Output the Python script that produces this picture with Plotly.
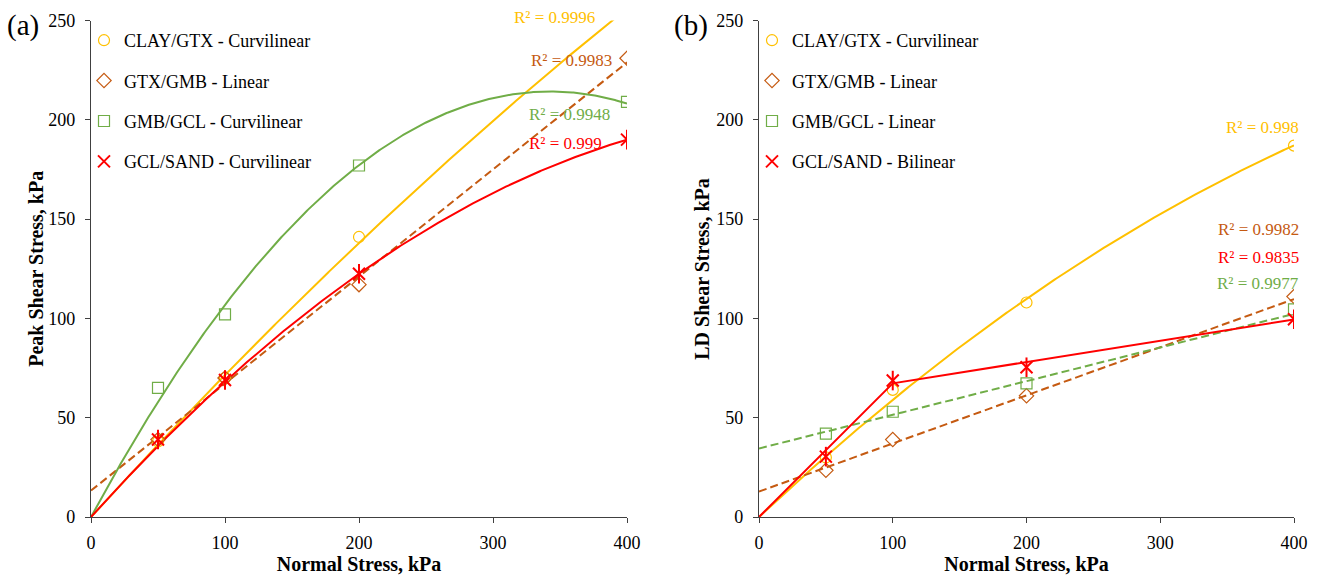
import numpy as np
import plotly.graph_objects as go

# ---------------- data ----------------
normal_stress = [50, 100, 200, 400]

# (a) Peak shear stress, kPa
peak_clay_gtx = [38, 70, 141, 256]
peak_gtx_gmb = [39, 70, 117, 231]
peak_gmb_gcl = [65, 102, 177, 209]
peak_gcl_sand = [39, 69, 122.5, 190]

# (b) Large-displacement shear stress, kPa
ld_clay_gtx = [30, 64, 108, 187]
ld_gtx_gmb = [23.5, 39, 61, 111]
ld_gmb_gcl = [42, 53, 67.3, 104.5]
ld_gcl_sand = [30.4, 68.7, 75.4, 99.6]

# trendline coefficients: y = c0 + c1*x + c2*x^2
peak_fit_clay_gtx = [0.0, 0.74, -0.00025]
peak_fit_gtx_gmb = [13.3, 0.539, 0.0]
peak_fit_gmb_gcl = [0.0, 1.2513, -0.001827]
peak_fit_gcl_sand = [0.0, 0.75, -0.0006875]

ld_fit_clay_gtx = [0.0, 0.631, -0.000408]
ld_fit_gtx_gmb = [12.8, 0.2423, 0.0]
ld_fit_gmb_gcl = [34.5, 0.1695, 0.0]
ld_bilinear_x = [0, 100, 400]
ld_bilinear_y = [0, 67.3, 99.5]

peak_r2 = ["R² = 0.9996", "R² = 0.9983", "R² = 0.9948", "R² = 0.999"]
ld_r2 = ["R² = 0.998", "R² = 0.9982", "R² = 0.9835", "R² = 0.9977"]

names_a = ["CLAY/GTX - Curvilinear", "GTX/GMB - Linear", "GMB/GCL - Curvilinear", "GCL/SAND - Curvilinear"]
names_b = ["CLAY/GTX - Curvilinear", "GTX/GMB - Linear", "GMB/GCL - Linear", "GCL/SAND - Bilinear"]

# ---------------- style ----------------
YEL = "#FFC000"
BRN = "#C55A11"
GRN = "#70AD47"
RED = "#FF0000"
FONT = "Liberation Serif, Times New Roman, serif"
AXC = "#404040"

fig = go.Figure()
xs = np.linspace(0, 400, 401)


def poly(c):
    return c[0] + c[1] * xs + c[2] * xs ** 2


def add_panel(xa, ya, legend, data, fits, names):
    sym = ["circle-open", "diamond-open", "square-open"]
    cols = [YEL, BRN, GRN, RED]
    for i, f in enumerate(fits):
        if f is None:
            continue
        dash = "8px,4px" if f[2] == 0.0 else "solid"
        fig.add_trace(go.Scatter(x=xs, y=poly(f), mode="lines", xaxis=xa, yaxis=ya,
                                 line=dict(color=cols[i], width=2, dash=dash),
                                 showlegend=False, hoverinfo="skip"))
    for i in range(3):
        fig.add_trace(go.Scatter(x=normal_stress, y=data[i], mode="markers", xaxis=xa, yaxis=ya,
                                 name=names[i], legend=legend, legendgroup=legend + str(i),
                                 marker=dict(symbol=sym[i], size=11, color=cols[i],
                                             line=dict(width=1.2, color=cols[i]))))
    fig.add_trace(go.Scatter(x=normal_stress, y=data[3], mode="markers", xaxis=xa, yaxis=ya,
                             name=names[3], legend=legend, legendgroup=legend + "3",
                             marker=dict(symbol="x-thin-open", size=12, color=RED,
                                         line=dict(width=2, color=RED))))
    fig.add_trace(go.Scatter(x=normal_stress, y=data[3], mode="markers", xaxis=xa, yaxis=ya,
                             showlegend=False, legendgroup=legend + "3",
                             marker=dict(symbol="line-ns-open", size=14, color=RED,
                                         line=dict(width=2, color=RED))))


add_panel("x", "y", "legend",
          [peak_clay_gtx, peak_gtx_gmb, peak_gmb_gcl, peak_gcl_sand],
          [peak_fit_clay_gtx, peak_fit_gtx_gmb, peak_fit_gmb_gcl, peak_fit_gcl_sand], names_a)
add_panel("x2", "y2", "legend2",
          [ld_clay_gtx, ld_gtx_gmb, ld_gmb_gcl, ld_gcl_sand],
          [ld_fit_clay_gtx, ld_fit_gtx_gmb, ld_fit_gmb_gcl, None], names_b)
fig.add_trace(go.Scatter(x=ld_bilinear_x, y=ld_bilinear_y, mode="lines", xaxis="x2", yaxis="y2",
                         line=dict(color=RED, width=2), showlegend=False, hoverinfo="skip"))

# ---------------- axes ----------------
W, H = 1318, 581
Y0, Y250 = 517, 20.5
XA0, XA400 = 91, 627
XB0, XB400 = 759, 1294
yd = [(H - Y0) / H, (H - Y250) / H]
common_x = dict(range=[0, 400], dtick=100, showgrid=False, zeroline=False, showline=True,
                linecolor=AXC, linewidth=1.3, ticks="outside", ticklen=5, tickcolor=AXC,
                automargin=False, ticklabelstandoff=4,
                tickfont=dict(family=FONT, size=18, color="black"))
common_y = dict(range=[0, 250], dtick=50, showgrid=False, zeroline=False, showline=True,
                linecolor=AXC, linewidth=1.3, ticks="outside", ticklen=5, tickcolor=AXC,
                automargin=False, ticklabelstandoff=6,
                tickfont=dict(family=FONT, size=18, color="black"))
title_font = dict(family=FONT, size=20, color="black")

fig.update_layout(
    width=W, height=H,
    margin=dict(l=0, r=0, t=0, b=0),
    paper_bgcolor="white", plot_bgcolor="white",
    xaxis=dict(domain=[XA0 / W, XA400 / W], anchor="y",
               title=dict(text="<b>Normal Stress, kPa</b>", font=title_font, standoff=4), **common_x),
    yaxis=dict(domain=yd, anchor="x", **common_y),
    xaxis2=dict(domain=[XB0 / W, XB400 / W], anchor="y2",
                title=dict(text="<b>Normal Stress, kPa</b>", font=title_font, standoff=4), **common_x),
    yaxis2=dict(domain=yd, anchor="x2", **common_y),
    legend=dict(x=84 / W, y=1 - 22 / H, xanchor="left", yanchor="top", bgcolor="rgba(0,0,0,0)",
                font=dict(family=FONT, size=18, color="black"), tracegroupgap=14,
                itemclick=False),
    legend2=dict(x=752 / W, y=1 - 22 / H, xanchor="left", yanchor="top", bgcolor="rgba(0,0,0,0)",
                 font=dict(family=FONT, size=18, color="black"), tracegroupgap=14,
                 itemclick=False),
    showlegend=True,
)


def px_x(px):
    return px / W


def px_y(py):
    return 1 - py / H


# R² labels (positions in pixels from the reference)
r2_font = 17
ann = []
pa = [(554, 18, YEL), (571, 61, BRN), (569, 114, GRN), (565, 143, RED)]
for (x, y, c), t in zip(pa, peak_r2):
    ann.append(dict(x=px_x(x), y=px_y(y), xref="paper", yref="paper", text=t, showarrow=False,
                    font=dict(family=FONT, size=r2_font, color=c), xanchor="center", yanchor="middle"))
pb = [(128, YEL), (230, BRN), (257, RED), (283, GRN)]
for (y, c), t in zip(pb, ld_r2):
    ann.append(dict(x=px_x(1301), y=px_y(y), xref="paper", yref="paper", text=t, showarrow=False,
                    font=dict(family=FONT, size=r2_font, color=c), xanchor="right", yanchor="middle"))
ann.append(dict(x=px_x(5), y=px_y(25), xref="paper", yref="paper", text="(a)", showarrow=False,
                font=dict(family=FONT, size=29, color="black"), xanchor="left", yanchor="middle"))
ann.append(dict(x=px_x(672), y=px_y(25), xref="paper", yref="paper", text="(b)", showarrow=False,
                font=dict(family=FONT, size=29, color="black"), xanchor="left", yanchor="middle"))
# y-axis titles
ymid = px_y((Y0 + Y250) / 2)
ann.append(dict(x=px_x(36), y=ymid, xref="paper", yref="paper", text="<b>Peak Shear Stress, kPa</b>",
                textangle=-90, showarrow=False, font=title_font, xanchor="center", yanchor="middle"))
ann.append(dict(x=px_x(702), y=ymid, xref="paper", yref="paper", text="<b>LD Shear Stress, kPa</b>",
                textangle=-90, showarrow=False, font=title_font, xanchor="center", yanchor="middle"))
fig.update_layout(annotations=ann)

fig.write_html("out.html")
